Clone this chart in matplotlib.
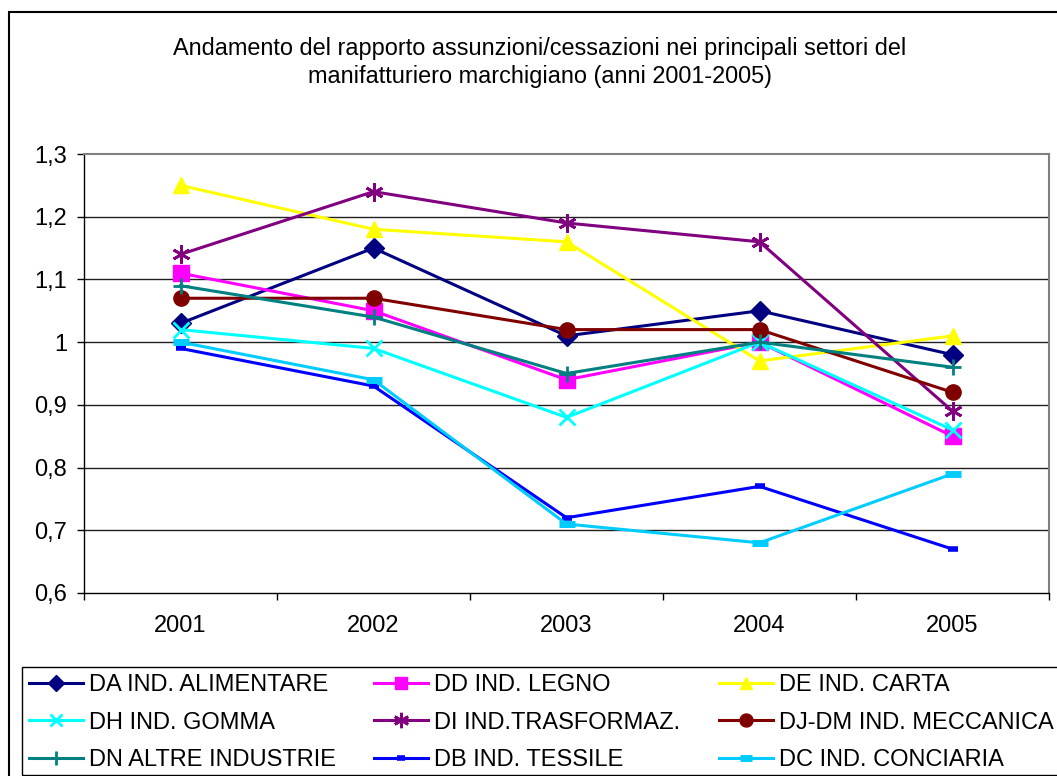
import matplotlib
matplotlib.use('Agg')
import matplotlib.pyplot as plt
from matplotlib.lines import Line2D
from matplotlib.patches import Rectangle

plt.rcParams['font.family'] = ['Liberation Sans', 'DejaVu Sans']

years = ['2001', '2002', '2003', '2004', '2005']
ytick_labels = ['0,6', '0,7', '0,8', '0,9', '1', '1,1', '1,2', '1,3']
ytick_vals = [0.6, 0.7, 0.8, 0.9, 1.0, 1.1, 1.2, 1.3]

# valori
da = [1.03, 1.15, 1.01, 1.05, 0.98]
dd = [1.11, 1.05, 0.94, 1.00, 0.85]
de = [1.25, 1.18, 1.16, 0.97, 1.01]
dh = [1.02, 0.99, 0.88, 1.00, 0.86]
di = [1.14, 1.24, 1.19, 1.16, 0.89]
djdm = [1.07, 1.07, 1.02, 1.02, 0.92]
dn = [1.09, 1.04, 0.95, 1.00, 0.96]
db = [0.99, 0.93, 0.72, 0.77, 0.67]
dc = [1.00, 0.94, 0.71, 0.68, 0.79]

names = ['DA IND. ALIMENTARE', 'DD IND. LEGNO', 'DE IND. CARTA',
         'DH IND. GOMMA', 'DI IND.TRASFORMAZ.', 'DJ-DM IND. MECCANICA',
         'DN ALTRE INDUSTRIE', 'DB IND. TESSILE', 'DC IND. CONCIARIA']
series = [da, dd, de, dh, di, djdm, dn, db, dc]
colors = ['#000080', '#FF00FF', '#FFFF00', '#00FFFF', '#800080',
          '#800000', '#008080', '#0000FF', '#00CCFF']
# marker, size, edge width
styles = [('D', 10, 1), ('s', 11, 1), ('^', 11, 1), ('x', 11, 2),
          ((6, 2, 0), 13, 2), ('o', 11, 1), ('+', 12, 2), ('_', 7, 4), ('_', 11, 5)]

fig = plt.figure(figsize=(10.57, 7.76), dpi=100)
ax = fig.add_axes([84/1057, 1-593/776, 965/1057, 439/776])

x = list(range(1, len(years)+1))
handles = []
for s, name, c, (m, ms, mew) in zip(series, names, colors, styles):
    ln, = ax.plot(x, s, color=c, lw=2.2, marker=m, markersize=ms,
                  markerfacecolor=c, markeredgecolor=c, markeredgewidth=mew,
                  label=name, solid_joinstyle='miter')
    handles.append(ln)

ax.set_xlim(0.5, 5.5)
ax.set_ylim(0.6, 1.3)
ax.set_yticks(ytick_vals)
ax.set_yticklabels(ytick_labels)
ax.set_xticks(x)
ax.set_xticklabels(years)
ax.set_xticks([0.5, 1.5, 2.5, 3.5, 4.5, 5.5], minor=True)
ax.tick_params(axis='x', which='major', length=0, pad=16, labelsize=17)
ax.tick_params(axis='x', which='minor', length=5, width=1, direction='out')
ax.tick_params(axis='y', length=5, width=1, pad=7, labelsize=17)
for yv in ytick_vals[1:-1]:
    ax.axhline(yv, color='#202020', lw=1, zorder=0)
ax.spines['top'].set_color('#808080')
ax.spines['right'].set_color('#808080')
ax.spines['top'].set_linewidth(1.5)
ax.spines['right'].set_linewidth(1.5)
ax.spines['left'].set_linewidth(1)
ax.spines['bottom'].set_linewidth(1)

fig.text(540/1057, 1-48/776, 'Andamento del rapporto assunzioni/cessazioni nei principali settori del',
         ha='center', va='center', fontsize=16.9)
fig.text(540/1057, 1-77/776, 'manifatturiero marchigiano (anni 2001-2005)',
         ha='center', va='center', fontsize=16.9)

# bordo esterno e riquadro legenda
fig.patches.append(Rectangle((9/1057, -0.1), 1.2, 1-12/776+0.1, transform=fig.transFigure,
                             fill=False, ec='black', lw=1.5))
fig.patches.append(Rectangle((22/1057, 1-775/776), 1.0, 108/776, transform=fig.transFigure,
                             fill=False, ec='black', lw=1))

leg_x = [29, 374, 719]
for i in range(3):
    hs = [handles[i], handles[i+3], handles[i+6]]
    hl = []
    for h in hs:
        hl.append(Line2D([], [], color=h.get_color(), lw=2.2, marker=h.get_marker(),
                         markersize=h.get_markersize()*0.85, markerfacecolor=h.get_color(),
                         markeredgecolor=h.get_color(), markeredgewidth=h.get_markeredgewidth()))
    lg = fig.legend(hl, [h.get_label() for h in hs], loc='upper left',
                    bbox_to_anchor=(leg_x[i]/1057, 1-674/776), frameon=False,
                    fontsize=17, handlelength=2.3, handletextpad=0.25,
                    labelspacing=0.66, borderpad=0, borderaxespad=0)

fig.savefig('out.png', dpi=100)
